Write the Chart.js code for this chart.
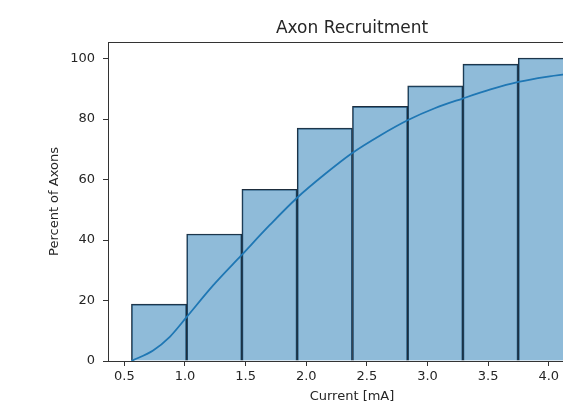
<!DOCTYPE html>
<html>
<head>
<meta charset="utf-8">
<script src="https://cdn.jsdelivr.net/npm/chart.js@4.4.1/dist/chart.umd.min.js"></script>
<style>
  html, body { margin: 0; padding: 0; background: #fff; overflow: hidden; }
  #wrap { width: 640px; height: 404px; }
</style>
</head>
<body>
<div id="wrap"><canvas id="axonChart" width="640" height="404"></canvas></div>
<script>
// histogram bins (edges) and bar heights, percent of axons
const binEdges = [0.558, 1.014, 1.469, 1.925, 2.381, 2.837, 3.292, 3.748, 4.204];
const barHeights = [18.8, 42.0, 56.8, 77.0, 84.2, 91.0, 98.2, 100.2];

// cumulative kde curve
const kdeX = [0.558, 0.737, 0.875, 1.013, 1.232, 1.466, 1.70, 1.925, 2.16, 2.38, 2.61, 2.84, 3.06, 3.29, 3.52, 3.75, 3.98, 4.204];
const kdeY = [0, 3.5, 8.0, 14.5, 25.0, 35.0, 45.0, 54.0, 62.0, 68.8, 74.6, 79.7, 83.6, 86.8, 89.8, 92.3, 94.0, 95.2];

const xTicks = [0.5, 1.0, 1.5, 2.0, 2.5, 3.0, 3.5, 4.0];
const yTicks = [0, 20, 40, 60, 80, 100];

const barPoints = barHeights.map((h, i) => ({ x: (binEdges[i] + binEdges[i + 1]) / 2, y: h }));
const kdePoints = kdeX.map((x, i) => ({ x: x, y: kdeY[i] }));

const axisColor = '#333';
const textColor = '#262626';
const fontFamily = '"DejaVu Sans", sans-serif';

// frame around the plot area (matplotlib spines)
const framePlugin = {
    id: 'frame',
    afterDatasetsDraw(chart) {
        const a = chart.chartArea;
        const ctx = chart.ctx;
        ctx.save();
        ctx.strokeStyle = axisColor;
        ctx.lineWidth = 1;
        ctx.strokeRect(Math.round(a.left) + 0.5, Math.round(a.top) + 0.5,
            Math.round(a.right - a.left), Math.round(a.bottom - a.top));
        ctx.restore();
    }
};

new Chart(document.getElementById('axonChart').getContext('2d'), {
    type: 'bar',
    data: {
        datasets: [
            {
                type: 'line',
                label: 'kde',
                data: kdePoints,
                borderColor: '#1f77b4',
                borderWidth: 1.8,
                pointRadius: 0,
                cubicInterpolationMode: 'monotone',
                fill: false,
                order: 0
            },
            {
                label: 'Axons',
                data: barPoints,
                backgroundColor: 'rgba(31,119,180,0.5)',
                borderColor: '#1d2d3d',
                borderWidth: 1,
                borderSkipped: 'start',
                barPercentage: 1.0,
                categoryPercentage: 1.0,
                order: 1
            }
        ]
    },
    options: {
        responsive: false,
        animation: false,
        layout: { padding: { left: 0, right: 44, top: 0, bottom: 0 } },
        plugins: {
            legend: { display: false },
            tooltip: { enabled: false },
            title: { display: false }
        },
        scales: {
            x: {
                type: 'linear',
                min: 0.365,
                max: 4.39,
                offset: false,
                afterFit: s => { s.height = 43; },
                afterBuildTicks: s => { s.ticks = xTicks.map(v => ({ value: v })); },
                grid: { display: true, drawOnChartArea: false, drawTicks: true, tickLength: 5, color: axisColor, offset: false },
                border: { display: true, color: axisColor, width: 1 },
                ticks: {
                    color: textColor,
                    padding: 3,
                    maxRotation: 0,
                    autoSkip: false,
                    font: { family: fontFamily, size: 13 },
                    callback: v => v.toFixed(1)
                },
                title: {
                    display: true,
                    text: 'Current [mA]',
                    color: textColor,
                    font: { family: fontFamily, size: 13 },
                    padding: { top: 0, bottom: 0 }
                }
            },
            // top axis only carries the plot title, centred over the plot area
            xTop: {
                type: 'linear',
                position: 'top',
                min: 0.365,
                max: 4.39,
                offset: false,
                afterFit: s => { s.height = 42; },
                grid: { display: false, drawTicks: false },
                border: { display: false },
                ticks: { display: false },
                title: {
                    display: true,
                    text: 'Axon Recruitment',
                    color: textColor,
                    font: { family: fontFamily, size: 17, weight: 'normal' },
                    padding: { top: 18.8, bottom: 0 }
                }
            },
            y: {
                min: 0,
                max: 105.5,
                afterFit: s => { s.width = 108; },
                afterBuildTicks: s => { s.ticks = yTicks.map(v => ({ value: v })); },
                grid: { display: true, drawOnChartArea: false, drawTicks: true, tickLength: 5, color: axisColor },
                border: { display: true, color: axisColor, width: 1 },
                ticks: {
                    color: textColor,
                    padding: 8,
                    font: { family: fontFamily, size: 13 },
                    callback: v => String(v)
                },
                title: {
                    display: true,
                    text: 'Percent of Axons',
                    color: textColor,
                    font: { family: fontFamily, size: 13 },
                    padding: { top: 47, bottom: 0 }
                }
            }
        }
    },
    plugins: [framePlugin]
});
</script>
</body>
</html>
